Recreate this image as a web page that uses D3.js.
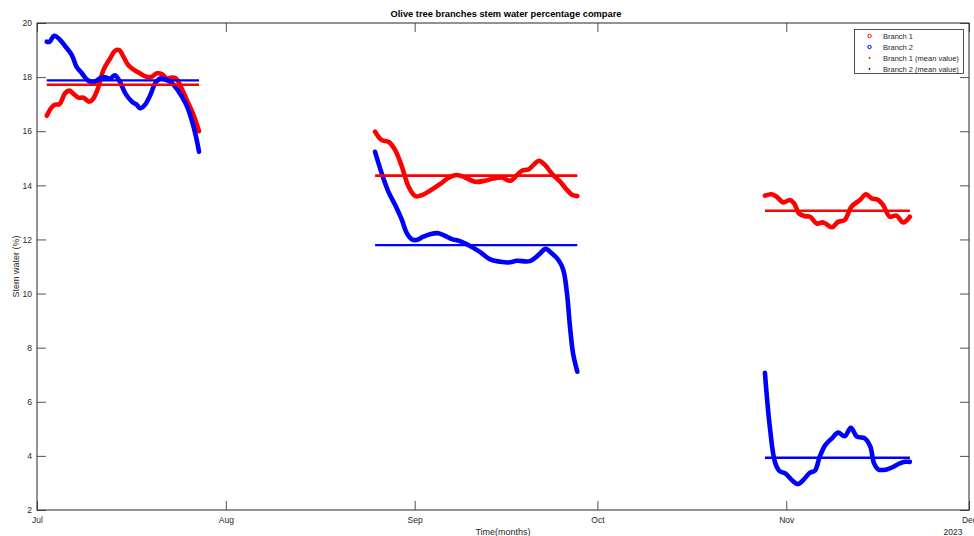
<!DOCTYPE html>
<html><head><meta charset="utf-8">
<script src="https://cdn.jsdelivr.net/npm/d3@7"></script>
<style>body{margin:0;background:#fff;font-family:"Liberation Sans",Arial,sans-serif}</style>
</head><body><svg id="c" width="974" height="536"></svg>
<script>
// day offsets from 2023-07-01 and stem water (%)
const branch1Seg1 = [[1.6,16.57],[2.4,16.88],[3.0,16.98],[3.7,17.0],[4.6,17.4],[5.3,17.5],[5.9,17.4],[6.8,17.24],[7.6,17.24],[8.6,17.09],[9.2,17.19],[10.0,17.58],[10.9,18.26],[12.0,18.69],[12.8,18.97],[13.5,19.0],[14.2,18.75],[15.0,18.44],[15.8,18.29],[16.9,18.14],[18.0,18.01],[18.8,18.01],[19.7,18.14],[20.5,18.11],[21.3,17.95],[22.1,17.98],[22.8,17.95],[23.5,17.7],[24.6,17.15],[25.7,16.6],[26.6,16.0]];
const branch2Seg1 = [[1.6,19.31],[2.1,19.31],[2.8,19.53],[3.7,19.4],[4.6,19.15],[5.7,18.82],[6.5,18.38],[7.3,18.16],[8.4,17.87],[9.5,17.83],[10.3,17.95],[11.2,17.99],[12.0,17.94],[12.8,18.07],[13.6,17.83],[14.5,17.4],[15.6,17.09],[16.4,16.97],[16.9,16.85],[17.7,16.97],[18.6,17.34],[19.4,17.77],[20.2,17.95],[21.0,17.92],[22.1,17.79],[22.9,17.58],[23.8,17.27],[24.6,16.93],[25.4,16.41],[26.1,15.8],[26.6,15.24]];
const branch1Seg2 = [[55.5,15.98],[56.6,15.67],[57.7,15.61],[58.8,15.3],[59.9,14.69],[61.0,13.95],[62.1,13.6],[63.2,13.64],[64.5,13.8],[66.2,14.05],[67.5,14.27],[68.9,14.38],[70.3,14.29],[71.9,14.13],[73.5,14.17],[74.9,14.25],[76.3,14.29],[77.7,14.17],[78.8,14.38],[79.6,14.54],[80.7,14.59],[81.5,14.75],[82.4,14.91],[83.4,14.75],[84.5,14.44],[85.9,14.13],[87.0,13.83],[87.9,13.64],[88.7,13.6]];
const branch2Seg2 = [[55.5,15.24],[56.6,14.44],[57.7,13.76],[58.8,13.27],[59.9,12.72],[60.7,12.23],[61.5,12.01],[62.3,11.98],[63.4,12.1],[64.5,12.19],[65.9,12.23],[67.0,12.13],[68.1,12.01],[69.4,11.94],[71.1,11.76],[72.7,11.54],[74.4,11.26],[76.0,11.18],[77.4,11.15],[78.8,11.21],[80.9,11.2],[82.3,11.42],[83.5,11.65],[84.5,11.49],[85.6,11.24],[86.4,10.87],[87.0,10.01],[87.5,8.77],[88.0,7.79],[88.7,7.11]];
const branch1Seg3 = [[119.5,13.62],[120.6,13.67],[121.4,13.58],[122.5,13.37],[123.6,13.46],[124.3,13.33],[125.1,12.96],[126.1,12.86],[126.9,12.84],[128.0,12.59],[129.1,12.63],[130.5,12.45],[131.5,12.65],[132.6,12.72],[133.7,13.21],[135.1,13.46],[136.1,13.67],[137.0,13.52],[138.1,13.46],[138.9,13.27],[140.0,12.84],[141.1,12.88],[142.2,12.63],[143.3,12.84]];
const branch2Seg3 = [[119.5,7.07],[120.3,5.08],[121.2,3.73],[122.0,3.42],[122.8,3.36],[123.9,3.11],[124.9,2.96],[125.8,3.11],[126.9,3.38],[127.7,3.45],[128.5,3.97],[129.4,4.4],[130.5,4.65],[131.5,4.86],[132.6,4.73],[133.6,5.04],[134.6,4.71],[135.9,4.65],[136.8,4.34],[137.4,3.73],[138.1,3.5],[139.5,3.5],[140.6,3.6],[141.4,3.7],[142.5,3.78],[143.3,3.78]];
const branch1Means = [17.72, 14.36, 13.06];
const branch2Means = [17.88, 11.79, 3.93];
const yTicks = [2,4,6,8,10,12,14,16,18,20];
const legendLabels = ["Branch 1","Branch 2","Branch 1 (mean value)","Branch 2 (mean value)"];
const titleText = "Olive tree branches stem water percentage compare";

const base = new Date(2023,6,1);
const toDate = d => new Date(base.getTime() + d*864e5);
const svg = d3.select("#c");
const L=37,R=969,T=23,B=510;
const x = d3.scaleTime().domain([new Date(2023,6,1), new Date(2023,11,1)]).range([L,R]);
const y = d3.scaleLinear().domain([2,20]).range([B,T]);
const ax = "#262626";

svg.append("rect").attr("x",L).attr("y",T).attr("width",R-L).attr("height",B-T).attr("fill","#fff");

const fmt = d3.timeFormat("%b");
const xb = svg.append("g").attr("transform",`translate(0,${B})`)
  .call(d3.axisBottom(x).ticks(d3.timeMonth.every(1)).tickFormat(fmt).tickSize(-9).tickPadding(7));
const xt = svg.append("g").attr("transform",`translate(0,${T})`)
  .call(d3.axisTop(x).ticks(d3.timeMonth.every(1)).tickFormat("").tickSize(-9));
const yl = svg.append("g").attr("transform",`translate(${L},0)`)
  .call(d3.axisLeft(y).tickValues(yTicks).tickSize(-9).tickPadding(5));
const yr = svg.append("g").attr("transform",`translate(${R},0)`)
  .call(d3.axisRight(y).tickValues(yTicks).tickFormat("").tickSize(-9));
[xb,xt,yl,yr].forEach(g=>{
  g.select(".domain").remove();
  g.selectAll("line").attr("stroke",ax).attr("stroke-width",0.8);
  g.selectAll("text").attr("fill",ax).style("font-family","Liberation Sans, Arial, sans-serif").style("font-size","8.5px");
});

const line = d3.line().x(d=>x(toDate(d[0]))).y(d=>y(d[1])).curve(d3.curveCatmullRom.alpha(0.5));
const segs1=[branch1Seg1,branch1Seg2,branch1Seg3], segs2=[branch2Seg1,branch2Seg2,branch2Seg3];
segs1.forEach(s=>svg.append("path").attr("d",line(s)).attr("fill","none").attr("stroke","#ff0000").attr("stroke-width",4.6).attr("stroke-linecap","round").attr("stroke-linejoin","round"));
segs2.forEach(s=>svg.append("path").attr("d",line(s)).attr("fill","none").attr("stroke","#0000ff").attr("stroke-width",4.6).attr("stroke-linecap","round").attr("stroke-linejoin","round"));
branch1Means.forEach((m,i)=>{const s=segs1[i];svg.append("line").attr("x1",x(toDate(s[0][0]))).attr("x2",x(toDate(s[s.length-1][0]))).attr("y1",y(m)).attr("y2",y(m)).attr("stroke","#ff0000").attr("stroke-width",2.6);});
branch2Means.forEach((m,i)=>{const s=segs2[i];svg.append("line").attr("x1",x(toDate(s[0][0]))).attr("x2",x(toDate(s[s.length-1][0]))).attr("y1",y(m)).attr("y2",y(m)).attr("stroke","#0000ff").attr("stroke-width",2.4);});

svg.append("rect").attr("x",L).attr("y",T).attr("width",R-L).attr("height",B-T).attr("fill","none").attr("stroke",ax).attr("stroke-width",1);

svg.append("text").attr("x",(L+R)/2+3).attr("y",17).attr("text-anchor","middle").attr("font-weight","bold").attr("font-size","9.3px").attr("fill","#000").text(titleText);
svg.append("text").attr("x",(L+R)/2).attr("y",534.5).attr("text-anchor","middle").attr("font-size","9px").attr("fill",ax).text("Time(months)");
svg.append("text").attr("x",R-16).attr("y",534.5).attr("text-anchor","middle").attr("font-size","8.5px").attr("fill",ax).text("2023");
svg.append("text").attr("transform",`translate(19,${(T+B)/2}) rotate(-90)`).attr("text-anchor","middle").attr("font-size","9px").attr("fill",ax).text("Stem water (%)");

// legend
const lg = svg.append("g");
lg.append("rect").attr("x",854.5).attr("y",29.5).attr("width",109).attr("height",44).attr("fill","#fff").attr("stroke",ax).attr("stroke-width",0.8);
const cols=["#ff0000","#0000ff","#ff0000","#0000ff"];
legendLabels.forEach((t,i)=>{
  const yy=36+i*11;
  if(i<2) lg.append("circle").attr("cx",869.5).attr("cy",yy).attr("r",1.7).attr("fill","none").attr("stroke",cols[i]).attr("stroke-width",1);
  else lg.append("circle").attr("cx",869.5).attr("cy",yy).attr("r",0.9).attr("fill",cols[i]);
  lg.append("text").attr("x",883).attr("y",yy+2.7).attr("font-size","7.5px").attr("fill",ax).text(t);
});
</script></body></html>
